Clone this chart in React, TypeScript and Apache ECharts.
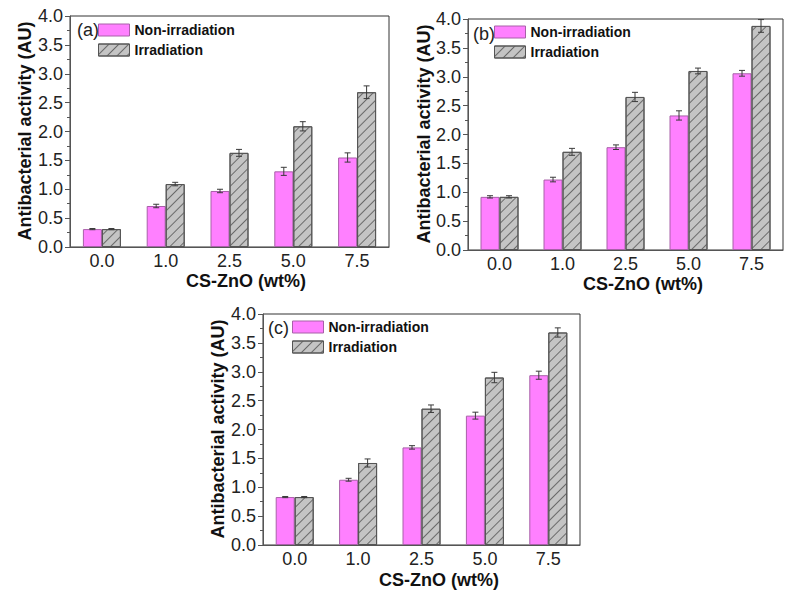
import React, { useEffect, useRef } from "react";
import * as echarts from "echarts";

const categories = ["0.0", "1.0", "2.5", "5.0", "7.5"];
const yTicks = ["0.0", "0.5", "1.0", "1.5", "2.0", "2.5", "3.0", "3.5", "4.0"];

const aNon = [0.31, 0.71, 0.97, 1.31, 1.55];
const aNonErr = [0.01, 0.03, 0.03, 0.07, 0.08];
const aIrr = [0.31, 1.09, 1.63, 2.09, 2.68];
const aIrrErr = [0.01, 0.03, 0.06, 0.08, 0.11];

const bNon = [0.92, 1.22, 1.78, 2.33, 3.06];
const bNonErr = [0.02, 0.04, 0.04, 0.08, 0.05];
const bIrr = [0.92, 1.7, 2.65, 3.1, 3.88];
const bIrrErr = [0.02, 0.06, 0.08, 0.05, 0.11];

const cNon = [0.83, 1.13, 1.69, 2.24, 2.94];
const cNonErr = [0.01, 0.025, 0.03, 0.06, 0.07];
const cIrr = [0.83, 1.42, 2.36, 2.9, 3.68];
const cIrrErr = [0.01, 0.07, 0.065, 0.09, 0.08];

const seriesNames = ["Non-irradiation", "Irradiation"];
const panelLabels = ["(a)", "(b)", "(c)"];
const xTitle = "CS-ZnO (wt%)";
const yTitle = "Antibacterial activity (AU)";

const FONT = "'Liberation Sans', Arial, sans-serif";
const PINK = "#ff80ff";
const GRAY = "#c4c4c4";
const BAR_W = 19;

const panels = [
  { non: aNon, nonErr: aNonErr, irr: aIrr, irrErr: aIrrErr, left: 70, top: 16, width: 319, height: 231, xt: [246, 281], yt: [25, 131], lab: [77, 30], leg: [98, 23] },
  { non: bNon, nonErr: bNonErr, irr: bIrr, irrErr: bIrrErr, left: 468, top: 19, width: 315, height: 231, xt: [643, 284], yt: [424, 134], lab: [473, 34], leg: [494, 25] },
  { non: cNon, nonErr: cNonErr, irr: cIrr, irrErr: cIrrErr, left: 263, top: 314, width: 317, height: 231, xt: [439, 580], yt: [218, 429], lab: [268, 328], leg: [292, 320] },
];

const hatch = {
  symbol: "rect",
  symbolSize: 1,
  dashArrayX: [1, 0],
  dashArrayY: [1, 6],
  rotation: -Math.PI / 4,
  color: "#6a6a6a",
};

function errorRender(offset: number) {
  return (params: any, api: any) => {
    const idx = api.value(0);
    const v = api.value(1);
    const e = api.value(2);
    const top = api.coord([idx, v + e]);
    const bot = api.coord([idx, v - e]);
    const x = top[0] + offset;
    const cap = 3;
    const st = { stroke: "#3a3a3a", lineWidth: 1 };
    return {
      type: "group",
      children: [
        { type: "line", shape: { x1: x, y1: top[1], x2: x, y2: bot[1] }, style: st },
        { type: "line", shape: { x1: x - cap, y1: top[1], x2: x + cap, y2: top[1] }, style: st },
        { type: "line", shape: { x1: x - cap, y1: bot[1], x2: x + cap, y2: bot[1] }, style: st },
      ],
    };
  };
}

export default function App() {
  const ref = useRef<HTMLDivElement>(null);
  useEffect(() => {
    if (!ref.current) return;
    const chart = echarts.init(ref.current, null, { renderer: "svg" });
    const grids: any[] = [];
    const xAxes: any[] = [];
    const yAxes: any[] = [];
    const series: any[] = [];
    const legends: any[] = [];
    const graphics: any[] = [];
    panels.forEach((p, i) => {
      grids.push({
        left: p.left,
        top: p.top,
        width: p.width,
        height: p.height,
        show: true,
        borderColor: "#333333",
        borderWidth: 1,
        backgroundColor: "transparent",
      });
      xAxes.push({
        type: "category",
        gridIndex: i,
        data: categories,
        axisLine: { lineStyle: { color: "#555555", width: 1 } },
        axisTick: { show: false },
        axisLabel: { color: "#222222", fontSize: 18, fontFamily: FONT, margin: 5 },
      });
      yAxes.push({
        type: "value",
        gridIndex: i,
        min: 0,
        max: 4,
        interval: 0.5,
        axisLine: { show: true, lineStyle: { color: "#555555", width: 1 } },
        axisTick: { show: true, inside: false, length: 5, lineStyle: { color: "#555555" } },
        minorTick: { show: true, splitNumber: 2, length: 3, lineStyle: { color: "#555555" } },
        splitLine: { show: false },
        axisLabel: {
          color: "#222222",
          fontSize: 18,
          fontFamily: FONT,
          margin: 7,
          formatter: (v: number) => yTicks[Math.round(v / 0.5)] ?? v.toFixed(1),
        },
      });
      series.push({
        type: "bar",
        name: seriesNames[0],
        xAxisIndex: i,
        yAxisIndex: i,
        data: p.non,
        barWidth: BAR_W,
        barGap: "0%",
        itemStyle: { color: PINK, borderColor: "#a860a8", borderWidth: 1 },
      });
      series.push({
        type: "bar",
        name: seriesNames[1],
        xAxisIndex: i,
        yAxisIndex: i,
        data: p.irr,
        barWidth: BAR_W,
        barGap: "0%",
        itemStyle: { color: GRAY, borderColor: "#555555", borderWidth: 1, decal: hatch },
      });
      series.push({
        type: "custom",
        name: "errNon" + i,
        xAxisIndex: i,
        yAxisIndex: i,
        data: p.non.map((v, k) => [k, v, p.nonErr[k]]),
        encode: { x: 0, y: 1 },
        renderItem: errorRender(-BAR_W / 2),
        z: 10,
        silent: true,
      });
      series.push({
        type: "custom",
        name: "errIrr" + i,
        xAxisIndex: i,
        yAxisIndex: i,
        data: p.irr.map((v, k) => [k, v, p.irrErr[k]]),
        encode: { x: 0, y: 1 },
        renderItem: errorRender(BAR_W / 2),
        z: 10,
        silent: true,
      });
      legends.push({
        data: seriesNames.map((n) => ({ name: n, icon: "rect" })),
        left: p.leg[0],
        top: p.leg[1],
        orient: "vertical",
        itemWidth: 31,
        itemHeight: 12,
        itemGap: 6,
        padding: 0,
        selectedMode: false,
        itemStyle: { borderWidth: 1 },
        textStyle: { fontSize: 14, fontWeight: "bold", fontFamily: FONT, color: "#111111", padding: [0, 0, 0, 0] },
      });
      graphics.push({
        type: "text",
        x: p.xt[0],
        y: p.xt[1],
        style: { text: xTitle, font: `bold 18px ${FONT}`, fill: "#111111", align: "center", verticalAlign: "middle" },
      });
      graphics.push({
        type: "text",
        x: p.yt[0],
        y: p.yt[1],
        rotation: Math.PI / 2,
        style: { text: yTitle, font: `bold 18px ${FONT}`, fill: "#111111", align: "center", verticalAlign: "middle" },
      });
      graphics.push({
        type: "text",
        x: p.lab[0],
        y: p.lab[1],
        style: { text: panelLabels[i], font: `18px ${FONT}`, fill: "#222222", align: "left", verticalAlign: "middle" },
      });
    });
    chart.setOption({
      animation: false,
      backgroundColor: "#ffffff",
      grid: grids,
      xAxis: xAxes,
      yAxis: yAxes,
      legend: legends,
      series,
      graphic: graphics,
    });
    return () => chart.dispose();
  }, []);
  return (
    <div
      ref={ref}
      style={{ position: "fixed", left: 0, top: 0, width: 793, height: 601, background: "#fff" }}
    />
  );
}
